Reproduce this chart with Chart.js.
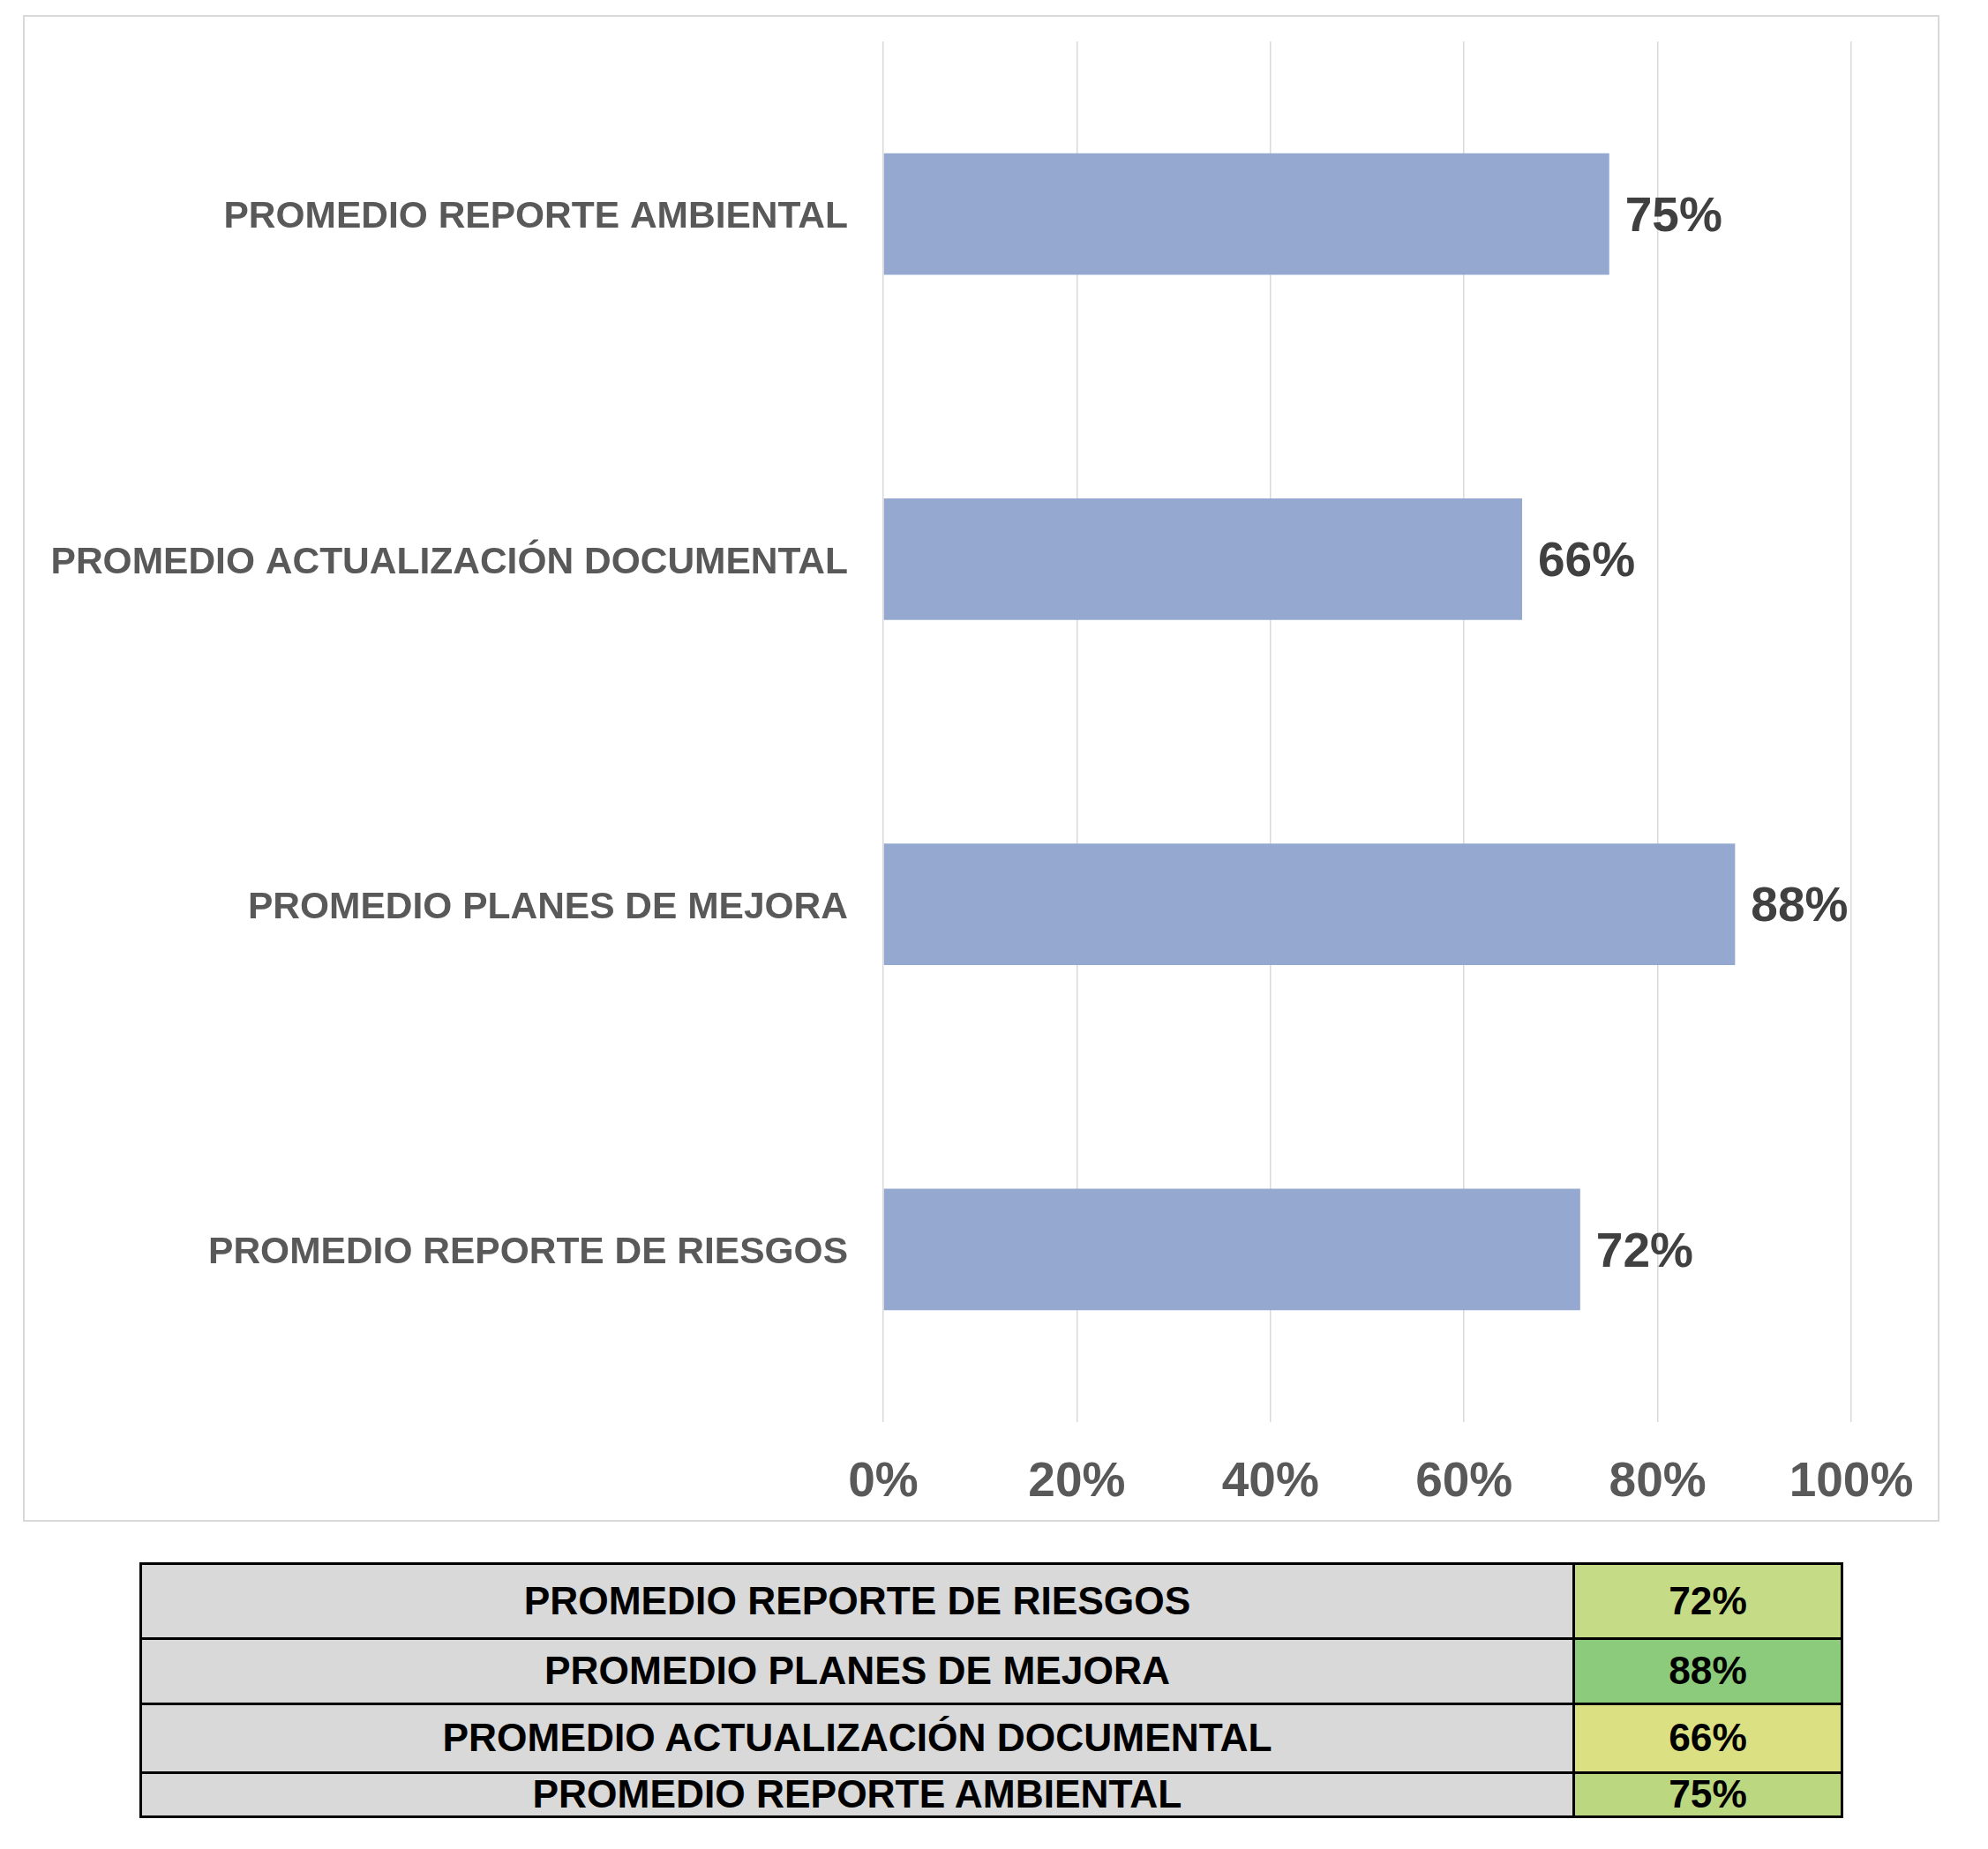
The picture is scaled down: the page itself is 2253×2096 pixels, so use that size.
<!DOCTYPE html>
<html>
<head>
<meta charset="utf-8">
<script src="https://cdn.jsdelivr.net/npm/chart.js@4"></script>
<style>
  html, body { margin: 0; padding: 0; background: #ffffff; }
  body { width: 2253px; height: 2096px; position: relative; overflow: hidden; font-family: "Liberation Sans", Arial, sans-serif; }
  #frame { position: absolute; left: 26px; top: 17px; width: 2172px; height: 1708px; box-sizing: border-box; border: 2px solid #d9d9d9; }
  #chart { position: absolute; left: 0; top: 0; }
  #tbl { position: absolute; left: 158px; top: 1771px; width: 1928px; border-collapse: collapse; table-layout: fixed; }
  #tbl td { border: 3px solid #000; padding: 0; text-align: center; vertical-align: middle; font-weight: bold; font-size: 44.3px; color: #000; line-height: 1; }
  #tbl td.lab { background: #d9d9d9; }
</style>
</head>
<body>
<div id="frame"></div>
<canvas id="chart" width="2253" height="1724"></canvas>
<table id="tbl"><colgroup><col style="width:1624px"><col style="width:304px"></colgroup><tbody id="tbody"></tbody></table>
<script>
const categories = [
  'PROMEDIO REPORTE DE RIESGOS',
  'PROMEDIO PLANES DE MEJORA',
  'PROMEDIO ACTUALIZACIÓN DOCUMENTAL',
  'PROMEDIO REPORTE AMBIENTAL'
];
const values = [72, 88, 66, 75];
const xTicks = [0, 20, 40, 60, 80, 100];
const tableCellColors = ['#C5DB85', '#8CCB7B', '#DBE083', '#BBD880'];
const tableRowHeights = [85, 74, 78, 50];

// table
const tbody = document.getElementById('tbody');
categories.forEach((c, i) => {
  const tr = document.createElement('tr');
  tr.style.height = tableRowHeights[i] + 'px';
  const td1 = document.createElement('td');
  td1.className = 'lab';
  td1.textContent = c;
  const td2 = document.createElement('td');
  td2.textContent = values[i] + '%';
  td2.style.background = tableCellColors[i];
  tr.appendChild(td1); tr.appendChild(td2);
  tbody.appendChild(tr);
});

const valueLabels = {
  id: 'valueLabels',
  afterDatasetsDraw(chart) {
    const ctx = chart.ctx;
    const meta = chart.getDatasetMeta(0);
    ctx.save();
    ctx.font = 'bold 55px "Liberation Sans", Arial, sans-serif';
    ctx.fillStyle = '#404040';
    ctx.textAlign = 'left';
    ctx.textBaseline = 'middle';
    meta.data.forEach((el, i) => {
      ctx.fillText(values[i] + '%', el.x + 18, el.y + 4);
    });
    ctx.restore();
  }
};

new Chart(document.getElementById('chart'), {
  type: 'bar',
  data: {
    labels: categories,
    datasets: [{
      data: values,
      backgroundColor: '#95A9D0',
      borderWidth: 0,
      categoryPercentage: 1,
      barPercentage: 0.352
    }]
  },
  options: {
    indexAxis: 'y',
    responsive: false,
    animation: false,
    devicePixelRatio: 1,
    layout: { padding: { left: 0, top: 47, right: 155, bottom: 0 } },
    plugins: { legend: { display: false }, tooltip: { enabled: false } },
    scales: {
      x: {
        min: 0, max: 100,
        afterBuildTicks(scale) { scale.ticks = xTicks.map(v => ({ value: v })); },
        afterFit(scale) { scale.height = 112; scale.paddingLeft = 0; scale.paddingRight = 0; },
        grid: { color: '#d9d9d9', lineWidth: 1.5, drawTicks: false },
        border: { display: false },
        ticks: {
          padding: 36,
          color: '#595959',
          font: { family: '"Liberation Sans", Arial, sans-serif', size: 55, weight: 'bold' },
          callback: v => v + '%',
          maxRotation: 0
        }
      },
      y: {
        reverse: true,
        afterFit(scale) { scale.width = 1001; scale.paddingTop = 0; scale.paddingBottom = 0; },
        grid: { display: false, drawTicks: false },
        border: { display: false },
        ticks: {
          padding: 40,
          labelOffset: 4,
          color: '#595959',
          font: { family: '"Liberation Sans", Arial, sans-serif', size: 42.5, weight: 'bold' }
        }
      }
    }
  },
  plugins: [valueLabels]
});
</script>
</body>
</html>
